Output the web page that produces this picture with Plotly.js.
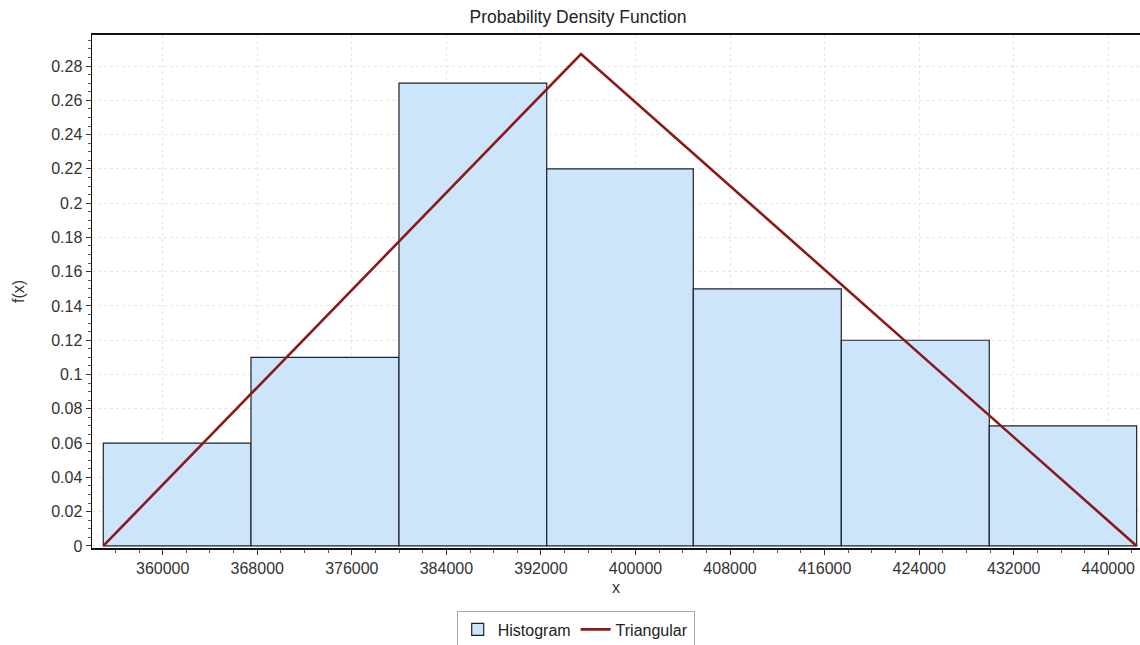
<!DOCTYPE html>
<html>
<head>
<meta charset="utf-8">
<script src="https://cdn.plot.ly/plotly-3.0.1.min.js"></script>
<style>html,body{margin:0;padding:0;background:#fff;}#chart{width:1140px;height:645px;}</style>
</head>
<body>
<div id="chart"></div>
<script>
// Histogram bins (x edges) and heights
const binStart = [354975, 367470, 379990, 392490, 404890, 417410, 429930];
const binEnd   = [367470, 379990, 392490, 404890, 417410, 429930, 442400];
const binHeight = [0.06, 0.11, 0.27, 0.22, 0.15, 0.12, 0.07];

// Triangular distribution: min, mode, max
const triX = [354975, 395390, 442400];
const triY = [0, 0.287, 0];

const yTickVals = [0,0.02,0.04,0.06,0.08,0.1,0.12,0.14,0.16,0.18,0.2,0.22,0.24,0.26,0.28];
const xTickVals = [360000,368000,376000,384000,392000,400000,408000,416000,424000,432000,440000];

const centers = binStart.map((s,i)=> (s+binEnd[i])/2);
const widths = binStart.map((s,i)=> binEnd[i]-s);

const FONT = 'Liberation Sans, Arial, sans-serif';

const traces = [
  {
    type: 'bar', name: 'Histogram',
    x: centers, y: binHeight, width: widths,
    marker: {color: '#cce5fb', line: {color: '#1e2230', width: 1.2}},
    hoverinfo: 'skip'
  },
  {
    type: 'scatter', mode: 'lines', name: 'Triangular',
    x: triX, y: triY,
    line: {color: '#8b1a1a', width: 2.6},
    hoverinfo: 'skip'
  }
];

const layout = {
  width: 1140, height: 645,
  paper_bgcolor: '#ffffff', plot_bgcolor: '#ffffff',
  margin: {l: 92, r: 0, t: 35, b: 97, pad: 0},
  font: {family: FONT, size: 16, color: '#333333'},
  title: {
    text: 'Probability Density Function',
    font: {family: FONT, size: 17.5, color: '#222222'},
    x: 0.507, xref: 'container', xanchor: 'center',
    y: 0.974, yref: 'container', yanchor: 'middle'
  },
  showlegend: true,
  legend: {
    orientation: 'h', xref: 'container', yref: 'container',
    x: 0.505, xanchor: 'center', y: 0.052, yanchor: 'top',
    bordercolor: '#a8a8a8', borderwidth: 1, bgcolor: '#ffffff',
    font: {family: FONT, size: 16, color: '#222222'},
    itemwidth: 30, tracegroupgap: 0
  },
  bargap: 0,
  xaxis: {
    range: [354019, 442682],
    tickvals: xTickVals, tickformat: 'd',
    ticks: 'outside', ticklen: 5, tickcolor: '#333', tickwidth: 1,
    showline: true, linecolor: '#111', linewidth: 2, mirror: true,
    showgrid: true, gridcolor: '#e6e6e6', griddash: 'dot', gridwidth: 1,
    zeroline: false,
    minor: {dtick: 2000, tick0: 360000, ticks: 'outside', ticklen: 3, tickcolor: '#555', showgrid: false},
    tickfont: {family: FONT, size: 16, color: '#333'},
    title: {text: 'x', font: {family: FONT, size: 16, color: '#333'}, standoff: 6},
    automargin: false
  },
  yaxis: {
    range: [-0.0012, 0.2981],
    tickvals: yTickVals,
    ticks: 'outside', ticklen: 5, tickcolor: '#333', tickwidth: 1,
    showline: true, linecolor: '#111', linewidth: 1.5,
    showgrid: true, gridcolor: '#e6e6e6', griddash: 'dot', gridwidth: 1,
    zeroline: false,
    minor: {dtick: 0.005, tick0: 0, ticks: 'outside', ticklen: 3, tickcolor: '#555', showgrid: false},
    tickfont: {family: FONT, size: 16, color: '#333'},
    title: {text: 'f(x)', font: {family: FONT, size: 16, color: '#333'}, standoff: 22},
    automargin: false
  }
};

Plotly.newPlot('chart', traces, layout, {staticPlot: true, displayModeBar: false});
</script>
</body>
</html>
